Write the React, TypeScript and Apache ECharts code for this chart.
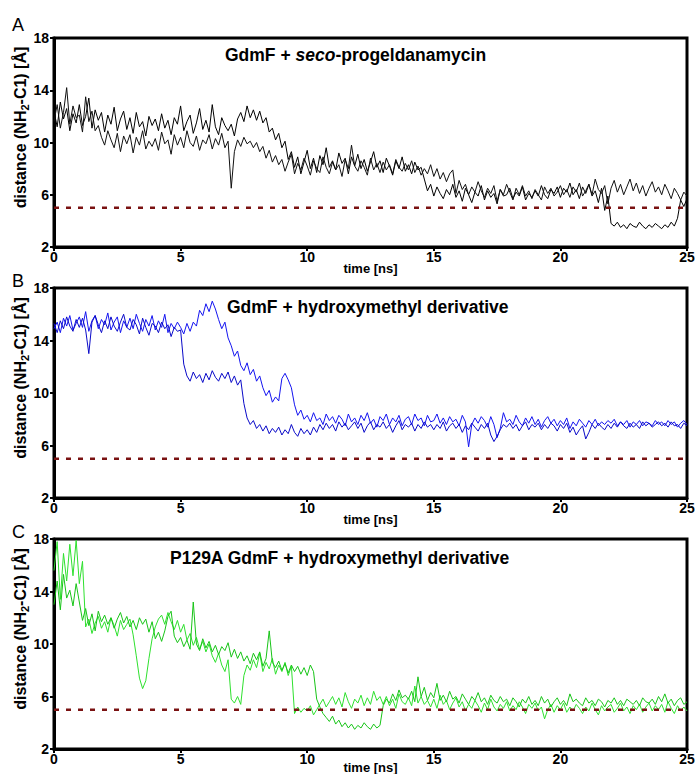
import React, { useEffect, useRef } from "react";
import * as echarts from "echarts";

// sampling step of the traces (ns); each row below = 1 ns
const TIME_STEP_NS = 0.125;
const X_MIN = 0;
const X_MAX = 25;
const Y_MIN = 2;
const Y_MAX = 18;
const THRESHOLD = 5;

const panelLetters = ["A", "B", "C"];

// Panel A: GdmF + seco-progeldanamycin
const traceA1 = [
  12.4, 11.2, 13.1, 11.8, 12.6, 10.9, 12.2, 11.5,
  12.9, 11.3, 12.0, 13.4, 11.1, 12.5, 11.7, 12.3,
  10.8, 12.1, 11.4, 12.7, 10.9, 11.8, 12.4, 11.0,
  11.9, 10.7, 12.3, 11.2, 11.6, 10.5, 12.0, 11.3,
  11.8, 10.9, 12.2, 11.1, 11.7, 10.6, 11.9, 11.4,
  12.8, 10.9, 11.6, 12.1, 10.7, 11.5, 12.6, 11.0,
  11.7, 10.8, 12.9, 11.2, 10.6, 11.9, 11.3, 10.9,
  11.4, 10.5, 11.8, 12.3, 11.6, 12.8, 11.9, 12.5,
  11.7, 12.4, 11.5, 11.9, 10.8, 11.1, 10.2, 10.7,
  9.6, 10.1, 8.7, 9.3, 8.1, 8.9, 7.6, 8.5,
  9.4, 8.0, 8.8, 7.7, 9.0, 8.3, 9.6, 8.1,
  8.6, 7.9, 9.2, 8.4, 8.8, 7.6, 8.9, 8.2,
  9.1, 8.0, 8.7, 7.8, 8.5, 9.3, 8.1, 8.6,
  7.7, 8.8, 8.2, 7.5, 8.6, 8.0, 8.9, 7.8,
  8.3, 7.6, 8.5, 7.9, 8.1, 7.2, 6.3, 6.8,
  5.9, 6.6, 6.1, 5.7, 6.4, 6.0, 6.8, 5.8,
  6.3, 5.5, 6.5, 6.0, 5.4, 6.2, 5.9, 6.7,
  5.6, 6.3, 5.8, 6.1, 5.3, 6.4, 5.9, 6.0,
  6.5, 5.7, 6.2, 5.9, 6.6, 5.6, 6.1, 5.8,
  6.3, 5.9, 6.7, 6.0, 5.7, 6.4, 6.1, 6.6,
  5.8, 6.5, 6.2, 6.9, 6.0, 6.4, 5.7, 6.6,
  6.1, 6.8, 5.9, 6.3, 5.4, 6.5, 4.8, 5.9,
  3.8, 3.6, 3.9, 3.5, 3.7, 3.4, 3.8, 3.6,
  3.5, 3.9, 3.6, 3.4, 3.7, 3.5, 3.8, 3.6,
  3.4, 3.7, 3.5, 3.9, 3.6, 4.2, 5.6, 5.1,
  5.7,
];
const traceA2 = [
  11.6, 12.9, 11.1, 12.3, 14.2, 11.4, 12.8, 11.9,
  12.1, 10.8, 13.5, 11.6, 12.4, 10.9, 11.3, 10.4,
  9.8, 10.9, 10.2, 9.6, 10.7, 9.3, 10.5, 9.9,
  10.6, 9.2, 10.4, 9.8, 10.9, 9.5, 10.1, 9.7,
  10.3, 9.4, 10.8, 9.9, 10.2, 9.1, 10.6, 9.8,
  10.4, 9.6, 10.9, 10.0, 9.7, 10.5, 9.4, 10.2,
  9.9, 10.6, 9.5, 10.3, 9.8, 10.7, 9.6, 10.1,
  6.5, 9.3, 10.2, 9.7, 10.4, 9.9, 10.1, 9.6,
  10.0, 9.3, 9.7, 8.8, 9.4, 8.5, 9.0, 8.3,
  8.7, 7.8, 8.5, 9.1, 7.6, 8.4, 7.9, 8.8,
  8.2, 7.5, 8.6, 8.0, 7.7, 8.9, 8.1, 7.6,
  8.5, 7.9, 8.3, 7.4, 8.7, 8.0, 9.8, 8.2,
  7.8, 8.6, 8.1, 7.5, 8.8, 7.9, 8.4, 7.7,
  8.5, 7.9, 8.3, 7.6, 8.7, 8.1, 7.8, 8.4,
  7.9, 8.6, 7.7, 8.2, 7.5, 8.0, 7.6, 8.3,
  7.4, 8.0, 7.2, 7.7, 7.0, 7.6, 7.9, 6.1,
  7.1, 6.4, 6.8, 6.0, 6.6, 6.2, 7.0, 6.3,
  5.8, 6.5, 6.1, 6.7, 5.5, 6.4, 6.0, 6.8,
  6.2, 5.6, 6.5, 6.0, 6.7, 5.9, 6.3, 5.7,
  6.4, 6.0, 5.6, 6.6, 6.1, 6.5, 5.9, 6.2,
  6.7, 6.0, 6.4, 5.8, 6.6, 6.2, 6.9, 5.9,
  6.3, 6.8, 6.0, 7.2, 6.4, 6.1, 6.7, 5.3,
  6.5, 7.1, 6.2, 6.8, 6.0, 6.6, 7.2, 6.3,
  6.9, 6.1, 6.7, 5.9, 6.5, 7.0, 6.2, 6.6,
  6.0, 6.8, 6.3, 5.7, 6.5, 6.1, 5.6, 6.2,
  5.9,
];

// Panel B: GdmF + hydroxymethyl derivative
const traceB1 = [
  14.9, 15.4, 14.6, 15.7, 15.1, 15.9, 14.8, 15.3,
  15.8, 15.0, 16.2, 14.7, 15.5, 15.9, 14.9, 15.6,
  15.2, 16.1, 14.8, 15.4, 15.8, 14.6, 15.5, 15.0,
  15.7, 14.9, 16.0, 15.3, 14.7, 15.6, 15.1, 15.9,
  14.8, 15.5, 15.0, 16.0, 14.6, 15.3, 14.9, 15.4,
  15.0, 14.5, 15.3, 14.7, 15.4, 15.1, 16.3, 15.9,
  16.8, 16.2, 17.0, 16.4, 15.6, 14.9, 15.4, 14.2,
  13.6, 12.8, 13.2, 12.1, 11.7, 12.3, 11.4, 11.8,
  10.9, 11.3, 10.4, 9.8, 10.2, 9.3, 9.7, 9.4,
  11.1, 11.5, 11.0, 10.4, 9.1, 8.3, 8.7, 8.0,
  8.3, 7.8, 8.5, 7.9, 8.1, 7.6, 8.4, 7.9,
  8.2, 7.7, 8.3, 8.0, 7.5, 8.4, 7.8, 8.1,
  7.6, 8.3, 7.9, 8.5, 7.7, 8.0, 7.4, 8.2,
  7.9, 8.4, 7.6, 8.1, 7.8, 8.3, 7.5, 8.0,
  8.2, 7.6, 8.4, 7.9, 8.1, 7.5, 8.3, 7.8,
  7.9, 8.4, 7.7, 8.1, 7.6, 8.2, 7.8, 8.0,
  7.5, 8.3, 7.8, 5.9, 7.6, 8.1, 7.7, 8.2,
  7.9, 7.4, 8.2, 7.6, 6.6, 7.3, 8.5, 7.8,
  8.0, 7.6, 8.3, 7.8, 7.5, 8.1, 7.7, 8.2,
  7.6, 8.0, 7.4, 7.9, 8.2, 7.7, 8.0, 7.5,
  7.9, 7.6, 8.1, 7.3, 7.8, 7.5, 8.0, 7.7,
  7.4, 7.9, 7.6, 8.0, 7.5, 7.8, 7.6, 7.9,
  7.7, 8.0, 7.5, 7.8, 7.6, 7.9, 7.4, 7.8,
  7.6, 7.9, 7.5, 7.8, 7.7, 7.5, 7.9, 7.6,
  7.8, 7.5, 7.9, 7.6, 7.8, 7.4, 7.7, 7.9,
  7.6,
];
const traceB2 = [
  15.3, 14.6, 15.5, 14.9, 15.8, 15.1, 14.7, 15.6,
  15.0, 15.7, 14.8, 13.0, 15.4, 15.9, 15.2, 14.6,
  15.5, 14.9, 15.8, 15.1, 14.7, 15.4, 16.0, 15.0,
  14.8, 15.6, 15.2, 14.5, 15.7, 15.0, 14.4, 15.3,
  15.1, 14.6, 15.4, 14.9, 15.2, 14.3, 15.0, 14.7,
  14.8, 12.2, 11.3, 10.9, 11.6, 11.1, 11.4, 10.8,
  11.5, 11.0, 11.7, 11.2, 10.9, 11.5, 11.1, 11.6,
  10.8, 11.3, 10.6, 11.0, 9.2, 8.1, 7.6, 7.9,
  7.3, 7.6, 7.1, 7.5, 6.9, 7.3, 7.0, 7.4,
  6.8, 7.2, 6.9, 7.6, 7.0, 6.7, 7.3, 6.9,
  7.2, 6.8, 7.4, 7.0, 7.6, 7.2, 7.7, 7.3,
  7.6, 7.1, 7.8, 7.4, 7.7, 7.2, 7.5, 7.8,
  7.3, 7.7, 7.0, 7.5, 7.8, 7.2, 7.6, 7.4,
  7.8, 7.3, 7.6, 7.0, 7.5, 7.9, 7.2, 7.6,
  7.4, 7.7, 7.1, 7.6, 7.3, 7.8, 7.4, 7.6,
  7.2, 7.6, 7.3, 7.8, 7.1, 7.5, 7.7, 7.3,
  7.6, 7.0, 7.5, 7.2, 7.7, 7.4, 7.1, 7.6,
  7.3, 7.7, 6.8, 6.3, 6.7, 7.2, 7.6, 7.4,
  7.7, 7.3, 7.6, 7.1, 7.5, 7.8, 7.2, 7.6,
  7.4, 7.7, 7.2, 7.6, 7.3, 7.7, 7.5, 7.1,
  7.6, 7.3, 7.7, 7.0, 7.4, 6.8, 7.2, 7.5,
  6.5, 7.0, 7.6, 7.3, 7.7, 7.4, 7.2, 7.6,
  7.3, 7.7, 7.4, 7.8, 7.5, 7.3, 7.7, 7.4,
  7.6, 7.3, 7.8, 7.5, 7.7, 7.4, 7.6, 7.8,
  7.5, 7.7, 7.4, 7.8, 7.5, 7.6, 7.3, 7.7,
  7.5,
];

// Panel C: P129A GdmF + hydroxymethyl derivative
const traceC1 = [
  15.6, 17.8, 13.4, 16.9, 14.8, 17.6, 15.2, 17.9,
  14.6, 16.3, 11.3, 11.9, 10.8, 11.6, 12.1, 11.2,
  11.7, 10.9, 12.0, 11.4, 10.6, 11.8, 11.1, 11.5,
  11.9, 10.7, 9.1, 7.4, 6.6, 7.2, 8.9, 10.4,
  11.3, 11.9, 12.2, 11.5, 12.4, 11.7, 11.1, 11.8,
  10.9, 11.5, 10.3, 10.8, 9.9, 10.5, 9.6, 10.2,
  9.4, 10.0, 9.1, 8.6, 9.3, 8.4, 7.9, 8.8,
  5.8, 5.5, 6.0, 5.4, 7.6, 8.4, 8.0, 8.8,
  8.2, 9.3, 7.9, 8.6, 8.1, 8.9, 7.7, 8.4,
  7.9, 8.6, 7.6, 8.3, 4.7, 5.2, 4.8, 5.1,
  4.9, 5.3, 4.6, 5.0, 5.4, 5.8, 5.2, 5.6,
  6.0, 5.4, 5.9, 5.2, 6.3, 5.6, 5.1, 5.8,
  5.5, 6.1, 5.3, 5.9, 5.4, 6.4, 5.7, 6.0,
  5.4, 6.0, 5.3, 5.8, 5.1, 6.2, 5.6, 5.4,
  5.9, 5.3, 6.8, 5.5, 6.0, 5.4, 5.7, 5.2,
  5.8, 5.1, 6.1, 5.4, 5.7, 5.0, 5.5, 5.9,
  5.2, 5.6, 4.9, 5.4, 5.1, 5.7, 5.3, 4.8,
  5.5, 5.0, 5.8, 5.2, 4.9, 5.4, 5.1, 5.6,
  4.9, 5.3, 5.0, 5.6, 5.2, 4.7, 5.4, 5.1,
  5.5, 4.9, 5.2, 4.3, 5.0, 5.4, 4.8, 5.3,
  5.0, 5.5, 4.8, 5.2, 4.9, 5.4, 5.1, 4.7,
  5.2, 4.9, 5.5, 5.0, 4.6, 5.3, 4.9, 5.2,
  5.4, 4.8, 5.1, 5.5, 4.9, 5.2, 4.7, 5.3,
  5.0, 5.4, 4.8, 5.2, 5.5, 4.9, 5.3, 5.0,
  5.4, 4.8, 5.6, 5.1, 4.7, 5.3, 4.9, 5.2,
  4.9,
];
const traceC2 = [
  13.0, 14.8, 12.6, 15.3, 13.5, 14.1, 12.9, 14.6,
  13.2, 11.8, 12.7, 11.4, 12.3, 11.0, 12.5, 11.7,
  12.2, 11.5, 12.0, 11.2, 11.9, 12.4, 11.6, 12.1,
  11.3, 11.8, 11.1, 12.0, 11.5, 11.9, 10.9, 11.7,
  10.4, 10.9, 10.2, 11.0, 12.1, 12.5, 10.6, 10.1,
  10.5, 9.8, 10.3, 9.6, 13.2, 10.0, 9.5, 10.4,
  9.7, 10.2, 9.4, 9.9, 9.2, 9.8, 9.5, 10.1,
  9.0, 9.6, 8.9, 9.4, 8.7, 9.1, 8.5, 9.3,
  8.8, 9.4, 8.3, 8.9, 11.0, 8.6, 8.2, 8.7,
  8.0, 8.5, 7.8, 8.4, 7.9, 8.3, 7.7, 8.2,
  7.6, 8.4, 7.9, 5.8, 5.2, 4.7, 4.4, 4.1,
  4.5, 3.9, 4.2, 3.7, 4.0, 3.6, 3.9, 3.5,
  3.8, 3.6, 4.0, 3.7, 3.5, 3.9, 3.6, 3.8,
  5.3, 5.8, 5.5, 6.2, 5.7, 6.5, 5.9, 6.1,
  5.8, 6.4, 5.6, 7.5, 6.0, 6.7, 5.7, 6.3,
  5.9, 7.0, 5.7, 6.1, 5.6, 6.4, 5.8, 6.0,
  5.5, 6.2, 5.8, 5.4, 6.0, 5.7, 6.3, 5.6,
  5.9, 5.4, 6.1, 5.7, 5.5, 6.0, 5.6, 5.8,
  5.3, 5.9, 5.6, 5.2, 5.8, 5.5, 6.0, 5.4,
  5.7, 5.3, 6.0, 5.5, 5.8, 5.2, 5.6, 5.9,
  5.4, 5.7, 5.3, 6.2, 5.6, 5.8, 5.5, 5.3,
  5.9, 5.5, 5.7, 5.3, 5.8, 5.6, 5.2, 5.7,
  5.5, 5.9, 5.4, 5.7, 5.3, 5.8, 5.6, 5.4,
  5.7, 5.3, 5.9, 5.6, 5.5, 5.8, 5.4, 6.0,
  5.6, 6.2, 5.5, 5.8, 5.3, 5.7, 5.9, 5.4,
  5.6,
];

const FONT = "'Liberation Sans', Arial, Helvetica, sans-serif";

const panelTraces = [
  [traceA1, traceA2],
  [traceB1, traceB2],
  [traceC1, traceC2],
];
const panelColors = [
  ["#000000", "#111111"],
  ["#1414f0", "#0a0ac8"],
  ["#2ee02e", "#18c418"],
];
const panelTitles = [
  "GdmF + {i|seco}-progeldanamycin",
  "GdmF + hydroxymethyl derivative",
  "P129A GdmF + hydroxymethyl derivative",
];

const gridTops = [38, 288, 539];
const gridHeights = [209, 210, 210];
const xNameGaps = [15, 15, 12];
const titleLefts = [225, 227, 170];
const titleTops = [46, 298, 549];
const letterTops = [16, 272, 523];

function toPairs(values: number[]) {
  return values.map((v, i) => [i * TIME_STEP_NS, v]);
}

export default function App() {
  const ref = useRef<HTMLDivElement>(null);

  useEffect(() => {
    document.body.style.margin = "0";
    if (!ref.current) return;
    const chart = echarts.init(ref.current, null, { renderer: "svg" });

    const grid = gridTops.map((top, i) => ({
      left: 54,
      width: 633,
      top,
      height: gridHeights[i],
      containLabel: false,
      outerBoundsMode: "none",
      show: true,
      borderColor: "#000",
      borderWidth: 3,
      backgroundColor: "#fff",
    }));

    const xAxis = gridTops.map((_, i) => ({
      type: "value",
      gridIndex: i,
      min: X_MIN,
      max: X_MAX,
      interval: 5,
      name: "time [ns]",
      nameLocation: "middle",
      nameGap: xNameGaps[i],
      nameMoveOverlap: false,
      nameTextStyle: { fontFamily: FONT, fontWeight: "bold", fontSize: 13, color: "#000" },
      axisLine: { show: true, lineStyle: { color: "#000", width: 3 } },
      axisTick: { show: true, inside: false, length: 4, lineStyle: { color: "#000", width: 2 } },
      axisLabel: { fontFamily: FONT, fontWeight: "bold", fontSize: 14, color: "#000", margin: 3 },
      splitLine: { show: false },
    }));

    const yAxis = gridTops.map((_, i) => ({
      type: "value",
      gridIndex: i,
      min: Y_MIN,
      max: Y_MAX,
      interval: 4,
      name: "distance (NH{s|2}-C1) [Å]",
      nameLocation: "middle",
      nameGap: 24,
      nameMoveOverlap: false,
      nameTextStyle: {
        fontFamily: FONT,
        fontWeight: "bold",
        fontSize: 16,
        color: "#000",
        lineHeight: 20,
        padding: [0, 0, 0, 30],
        rich: {
          s: { fontFamily: FONT, fontWeight: "bold", fontSize: 11, color: "#000", lineHeight: 12, verticalAlign: "bottom" },
        },
      },
      axisLine: { show: true, lineStyle: { color: "#000", width: 3 } },
      axisTick: { show: true, inside: false, length: 4, lineStyle: { color: "#000", width: 2 } },
      axisLabel: { fontFamily: FONT, fontWeight: "bold", fontSize: 14, color: "#000", margin: 5 },
      splitLine: { show: false },
    }));

    const series: any[] = [];
    panelTraces.forEach((traces, p) => {
      traces.forEach((tr, k) => {
        series.push({
          type: "line",
          xAxisIndex: p,
          yAxisIndex: p,
          data: toPairs(tr),
          showSymbol: false,
          symbol: "none",
          lineStyle: { color: panelColors[p][k], width: 1 },
          z: 2,
        });
      });
      series.push({
        type: "line",
        xAxisIndex: p,
        yAxisIndex: p,
        data: [
          [X_MIN, THRESHOLD],
          [X_MAX, THRESHOLD],
        ],
        showSymbol: false,
        symbol: "none",
        lineStyle: { color: "#7a1212", width: 2.5, type: [5, 7] },
        z: 3,
      });
    });

    const title = panelTitles.map((t, i) => ({
      text: t,
      left: titleLefts[i],
      top: titleTops[i],
      padding: 0,
      textStyle: {
        fontFamily: FONT,
        fontWeight: "bold",
        fontSize: 17.5,
        color: "#000",
        rich: {
          i: { fontFamily: FONT, fontWeight: "bold", fontStyle: "italic", fontSize: 17.5, color: "#000" },
        },
      },
    }));

    const graphic = panelLetters.map((l, i) => ({
      type: "text",
      left: 12,
      top: letterTops[i],
      style: { text: l, fontFamily: FONT, fontSize: 18, fill: "#000" },
    }));

    chart.setOption({
      animation: false,
      backgroundColor: "#fff",
      grid,
      xAxis,
      yAxis,
      series,
      title,
      graphic,
    } as any);

    return () => chart.dispose();
  }, []);

  return <div ref={ref} style={{ width: 695, height: 774 }} />;
}
